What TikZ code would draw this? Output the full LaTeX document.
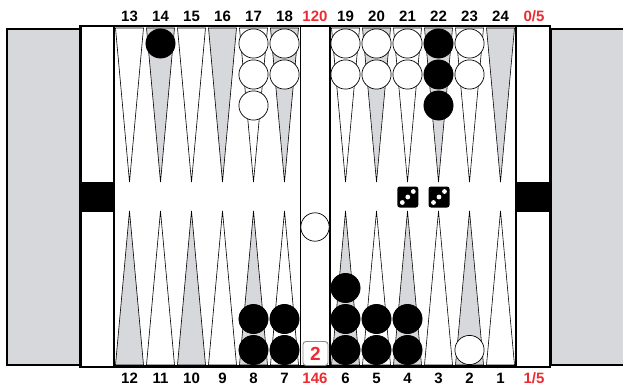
\documentclass[tikz,border=0pt]{standalone}
\usepackage{fontspec}
\setmainfont{Liberation Sans}[BoldFont={Liberation Sans Bold}]
\definecolor{pointgray}{RGB}{215,216,219}
\definecolor{labelred}{RGB}{234,44,50}
\tikzset{
  frame/.style={line width=2.5pt},
  thinline/.style={line width=0.6pt},
  chkwhite/.style={draw=black, fill=white, line width=0.7pt},
  chkblack/.style={draw=black, fill=black, line width=0.7pt},
  numlbl/.style={font=\fontsize{15}{17}\selectfont\bfseries, inner sep=0pt},
  redlbl/.style={numlbl, text=labelred},
  diebox/.style={fill=black, rounded corners=2.5pt},
}
\begin{document}
\begin{tikzpicture}[x=1pt, y=-1pt]
  \useasboundingbox (0,0) rectangle (623,385);

  % side trays
  \filldraw[fill=pointgray, frame] (7,29) rectangle (80,365);
  \fill[pointgray] (551,29) rectangle (625,365);
  \draw[frame] (625,29) -- (551,29) -- (551,365) -- (625,365);

  % points
  \foreach \h in {114,330} {
    \foreach \i in {0,...,5} {
      \pgfmathsetmacro{\xl}{\h+31*\i+1.5}
      \pgfmathsetmacro{\xm}{\h+31*\i+15.5}
      \pgfmathsetmacro{\xr}{\h+31*\i+29.5}
      \ifodd\i
        \filldraw[thinline, fill=pointgray] (\xl,28) -- (\xm,182) -- (\xr,28) -- cycle;
        \filldraw[thinline, fill=white] (\xl,365) -- (\xm,211) -- (\xr,365) -- cycle;
      \else
        \filldraw[thinline, fill=white] (\xl,28) -- (\xm,182) -- (\xr,28) -- cycle;
        \filldraw[thinline, fill=pointgray] (\xl,365) -- (\xm,211) -- (\xr,365) -- cycle;
      \fi
    }
  }

  % frame
  \draw[frame] (80.5,26) rectangle (550,367);
  \draw[frame] (114,26) -- (114,367);
  \draw[frame] (516,26) -- (516,367);
  \draw[frame] (330,26) -- (330,367);
  \draw[frame] (114,366) -- (516,366);
  \draw[thinline] (300,26) -- (300,367);
  \fill[black] (81,182) rectangle (114,212);
  \fill[black] (516,182) rectangle (550,212);

  % checkers, top
  \foreach \px/\n/\c in {160.5/1/black, 253.5/3/white, 284.5/2/white,
      345.5/2/white, 376.5/2/white, 407.5/2/white, 438.5/3/black, 469.5/2/white}
    \foreach \k in {1,...,\n}
      \draw[chk\c] (\px,{43.5+31*(\k-1)}) circle (14.6);
  % checkers, bottom
  \foreach \px/\n/\c in {253.5/2/black, 284.5/2/black, 345.5/3/black,
      376.5/2/black, 407.5/2/black, 469.5/1/white}
    \foreach \k in {1,...,\n}
      \draw[chk\c] (\px,{350-31*(\k-1)}) circle (14.6);
  % checker on the bar
  \draw[chkwhite] (315,227) circle (14.2);

  % dice
  \foreach \dx [count=\d] in {407.8,439} {
    \node[diebox, minimum size=21pt, inner sep=0pt] (die\d) at (\dx,197) {};
    \fill[white] (\dx-5.5,202.5) circle (2.4) (\dx,197) circle (2.4)
      (\dx+5.5,191.5) circle (2.4);
  }

  % cube
  \node[draw=black!45, line width=0.9pt, rounded corners=3pt, minimum width=25pt,
    minimum height=24pt, inner sep=0pt, text=labelred,
    font=\fontsize{19}{20}\selectfont\bfseries] (cube) at (315.5,353.5) {2};

  % point numbers
  \foreach \p [count=\i from 0] in {13,...,18} {
    \node[numlbl] (top\p) at (129.5+31*\i,16) {\p};
    \node[numlbl] (bot\i) at (129.5+31*\i,378) {\the\numexpr12-\i\relax};
  }
  \foreach \p [count=\i from 0] in {19,...,24} {
    \node[numlbl] (top\p) at (345.5+31*\i,16) {\p};
    \node[numlbl] (botr\i) at (345.5+31*\i,378) {\the\numexpr6-\i\relax};
  }
  \node[redlbl] (pipstop) at (315,16) {120};
  \node[redlbl] (pipsbot) at (315,378) {146};
  \node[redlbl] (offtop) at (534,16) {0/5};
  \node[redlbl] (offbot) at (534,378) {1/5};
\end{tikzpicture}
\end{document}
